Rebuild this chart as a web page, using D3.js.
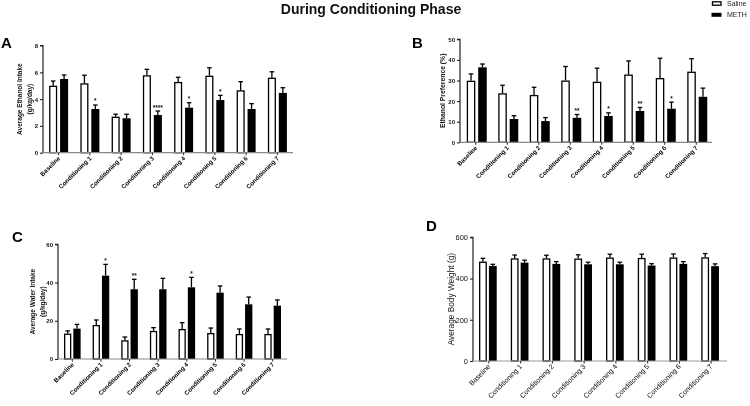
<!DOCTYPE html>
<html><head><meta charset="utf-8">
<script src="https://cdn.jsdelivr.net/npm/d3@7"></script>
<style>body{margin:0;background:#fff}svg{display:block;filter:grayscale(100%)}</style>
</head><body>
<script>
const categories = ["Baseline","Conditioning 1","Conditioning 2","Conditioning 3","Conditioning 4","Conditioning 5","Conditioning 6","Conditioning 7"];
const groups = ["Saline","METH"];

const salineA = [5.0, 5.18, 2.69, 5.78, 5.28, 5.75, 4.66, 5.6];
const salineAErr = [0.35, 0.6, 0.18, 0.44, 0.35, 0.59, 0.64, 0.44];
const methA = [5.5, 3.26, 2.57, 2.81, 3.36, 3.93, 3.26, 4.46];
const methAErr = [0.3, 0.3, 0.3, 0.3, 0.37, 0.35, 0.4, 0.39];
const starsA = ["", "*", "", "****", "*", "*", "", ""];
const ticksA = [0, 2, 4, 6, 8];

const salineB = [29.9, 23.8, 23.0, 30.0, 29.4, 32.9, 31.2, 34.3];
const salineBErr = [3.3, 3.9, 3.7, 6.8, 6.6, 6.6, 9.6, 6.3];
const methB = [36.4, 11.3, 10.3, 11.9, 12.8, 15.2, 16.3, 22.1];
const methBErr = [1.6, 1.6, 1.7, 1.6, 1.5, 1.7, 3.2, 4.2];
const starsB = ["", "", "", "**", "*", "**", "*", ""];
const ticksB = [0, 10, 20, 30, 40, 50];

const salineC = [13.3, 17.8, 9.8, 14.7, 15.7, 13.6, 13.1, 13.1];
const salineCErr = [1.4, 2.6, 1.7, 1.7, 3.3, 2.6, 2.6, 2.6];
const methC = [15.9, 43.6, 36.5, 36.5, 37.5, 34.7, 28.6, 27.9];
const methCErr = [2.2, 5.9, 5.2, 5.7, 5.2, 3.5, 3.8, 3.0];
const starsC = ["", "*", "**", "", "*", "", "", ""];
const ticksC = [0, 20, 40, 60];

const salineD = [482, 498, 498, 497, 502, 500, 502, 503];
const salineDErr = [16, 16, 15, 18, 16, 18, 17, 18];
const methD = [461, 477, 471, 469, 469, 463, 471, 460];
const methDErr = [8, 12, 11, 10, 10, 9, 11, 11];
const starsD = ["", "", "", "", "", "", "", ""];
const ticksD = [0, 200, 400, 600];

const W = 750, H = 406;
const svg = d3.select("body").append("svg").attr("width", W).attr("height", H);

svg.append("text").attr("x", 371).attr("y", 13.5).attr("text-anchor", "middle")
  .attr("font-family", "Liberation Sans, Arial, sans-serif").attr("font-weight", "bold")
  .attr("font-size", 14).attr("fill", "#111").text("During Conditioning Phase");

// legend
const legend = svg.append("g");
groups.forEach((g, i) => {
  const y = i === 0 ? 1.8 : 12.8;
  legend.append("rect").attr("x", i === 0 ? 712.5 : 711.5).attr("y", y)
    .attr("width", i === 0 ? 8.5 : 10).attr("height", i === 0 ? 3.4 : 4)
    .attr("fill", i === 0 ? "#fff" : "#000").attr("stroke", "#000").attr("stroke-width", i === 0 ? 1.3 : 0);
  legend.append("text").attr("x", 727).attr("y", i === 0 ? 6 : 17.3)
    .attr("font-family", "Liberation Sans, Arial, sans-serif").attr("font-size", 7).attr("fill", "#222").text(g);
});

function drawPanel(cfg) {
  const g = svg.append("g");
  const bold = cfg.bold ? "bold" : "normal";
  const ff = "Liberation Sans, Arial, sans-serif";
  const x = d3.scaleBand().domain(categories).range([cfg.x0, cfg.x1]).padding(0);
  const y = d3.scaleLinear().domain([0, cfg.ymax]).range([cfg.y0, cfg.y1]);
  const inner = d3.scaleBand().domain(groups)
    .range([-(cfg.bw + cfg.gap / 2), cfg.bw + cfg.gap / 2]).paddingInner(cfg.gap / (2 * cfg.bw + cfg.gap)).paddingOuter(0);

  // panel letter
  g.append("text").attr("x", cfg.lx).attr("y", cfg.ly).attr("font-family", ff)
    .attr("font-weight", "bold").attr("font-size", 15).attr("fill", "#000").text(cfg.letter);

  const series = [
    {name: "Saline", vals: cfg.saline, err: cfg.salineErr, fill: "#fff"},
    {name: "METH", vals: cfg.meth, err: cfg.methErr, fill: "#000"}
  ];
  series.forEach(s => {
    const c = x.bandwidth() / 2;
    categories.forEach((cat, i) => {
      const bx = x(cat) + c + inner(s.name) + cfg.shift;
      const top = y(s.vals[i]);
      const etop = y(s.vals[i] + s.err[i]);
      const cx = bx + inner.bandwidth() / 2;
      g.append("line").attr("x1", cx).attr("x2", cx).attr("y1", top).attr("y2", etop)
        .attr("stroke", "#000").attr("stroke-width", 1.3);
      g.append("line").attr("x1", cx - 2.3).attr("x2", cx + 2.3).attr("y1", etop).attr("y2", etop)
        .attr("stroke", "#000").attr("stroke-width", 1.3);
      if (s.name === "Saline") {
        g.append("rect").attr("x", bx + 0.65).attr("y", top + 0.65)
          .attr("width", inner.bandwidth() - 1.3).attr("height", Math.max(0, y(0) - top - 0.65))
          .attr("fill", "#fff").attr("stroke", "#000").attr("stroke-width", 1.3);
      } else {
        g.append("rect").attr("x", bx).attr("y", top)
          .attr("width", inner.bandwidth()).attr("height", y(0) - top).attr("fill", "#000");
        if (cfg.stars[i]) {
          g.append("text").attr("x", cx).attr("y", etop - 1.5).attr("text-anchor", "middle")
            .attr("font-family", ff).attr("font-weight", "bold").attr("font-size", 6.5)
            .attr("fill", "#111").text(cfg.stars[i]);
        }
      }
    });
  });

  // y axis
  const ya = d3.axisLeft(y).tickValues(cfg.ticks).tickSize(3).tickPadding(2).tickFormat(d3.format("d"));
  const yg = g.append("g").attr("transform", `translate(${cfg.x0},0)`).call(ya);
  yg.select(".domain").attr("stroke", "#222").attr("stroke-width", 1.2).attr("d", `M-3,${y(cfg.ymax)}H0V${y(0)}`);
  yg.selectAll(".tick line").attr("stroke", "#222").attr("stroke-width", 1.1);
  yg.selectAll("text").attr("font-family", ff).attr("font-weight", bold)
    .attr("font-size", cfg.tickFs).attr("fill", "#111");

  // x axis
  const xa = d3.axisBottom(x).tickSize(2.5).tickFormat("");
  const xg = g.append("g").attr("transform", `translate(0,${cfg.y0})`).call(xa);
  xg.select(".domain").attr("stroke", cfg.xcol).attr("stroke-width", 1.2).attr("d", `M${cfg.x0},0H${cfg.x1}`);
  xg.selectAll(".tick line").attr("stroke", "#222").attr("stroke-width", 1);
  categories.forEach(cat => {
    const cx = x(cat) + x.bandwidth() / 2 + 2;
    g.append("text").attr("transform", `translate(${cx},${cfg.y0 + 6}) rotate(-45)`)
      .attr("text-anchor", "end").attr("font-family", ff).attr("font-weight", bold)
      .attr("font-size", cfg.xFs).attr("fill", "#000").text(cat);
  });

  // y label
  const my = (y(0) + y(cfg.ymax)) / 2;
  cfg.ylabel.forEach((line, k) => {
    g.append("text").attr("transform", `translate(${cfg.ylx + k * cfg.lineH},${my}) rotate(-90)`)
      .attr("text-anchor", "middle").attr("font-family", ff).attr("font-weight", bold)
      .attr("font-size", cfg.labFs).attr("fill", "#111").text(line);
  });
}

drawPanel({letter: "A", lx: 1, ly: 48, x0: 43, x1: 293, y0: 152.7, y1: 45.5, ymax: 8, ticks: ticksA,
  saline: salineA, salineErr: salineAErr, meth: methA, methErr: methAErr, stars: starsA,
  bw: 7, gap: 5, shift: 0, bold: true, tickFs: 6, xFs: 6.2, labFs: 6.5, xcol: "#888",
  ylabel: ["Average Ethanol Intake", "(g/kg/day)"], ylx: 22, lineH: 10});

drawPanel({letter: "B", lx: 412, ly: 48, x0: 460, x1: 712, y0: 142.3, y1: 39.3, ymax: 50, ticks: ticksB,
  saline: salineB, salineErr: salineBErr, meth: methB, methErr: methBErr, stars: starsB,
  bw: 7.5, gap: 5, shift: 1, bold: true, tickFs: 6, xFs: 6.2, labFs: 6.8, xcol: "#888",
  ylabel: ["Ethanol Preference (%)"], ylx: 445, lineH: 10});

drawPanel({letter: "C", lx: 12, ly: 242, x0: 58, x1: 287, y0: 359, y1: 244.3, ymax: 60, ticks: ticksC,
  saline: salineC, salineErr: salineCErr, meth: methC, methErr: methCErr, stars: starsC,
  bw: 6.5, gap: 3.6, shift: 0, bold: true, tickFs: 6, xFs: 6.2, labFs: 6.5, xcol: "#888",
  ylabel: ["Average Water Intake", "(g/kg/day)"], ylx: 35, lineH: 9.5});

drawPanel({letter: "D", lx: 426, ly: 231, x0: 473, x1: 727, y0: 361, y1: 237.3, ymax: 600, ticks: ticksD,
  saline: salineD, salineErr: salineDErr, meth: methD, methErr: methDErr, stars: starsD,
  bw: 7, gap: 3.7, shift: -1, bold: false, tickFs: 7.5, xFs: 7, labFs: 8.3, xcol: "#999",
  ylabel: ["Average Body Weight (g)"], ylx: 454, lineH: 10});
</script>
</body></html>
